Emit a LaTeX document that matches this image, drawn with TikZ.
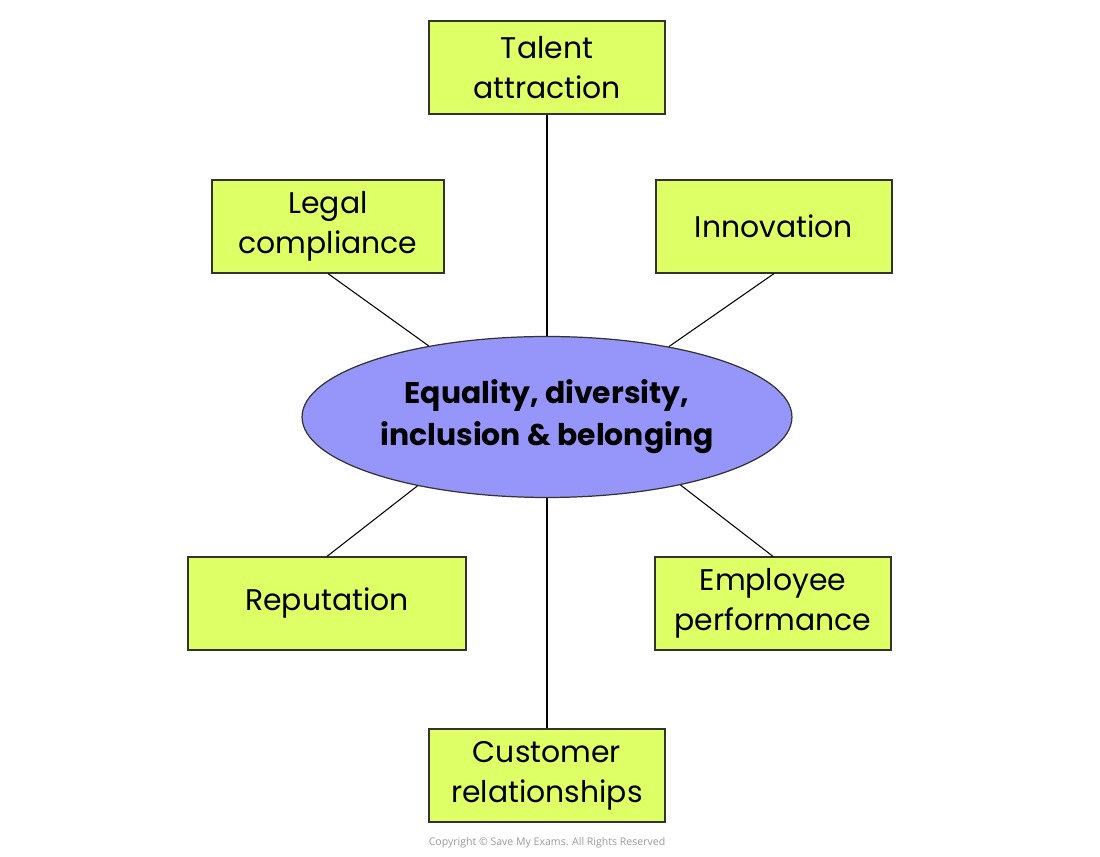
\documentclass[tikz,border=0pt]{standalone}
\usepackage{fontspec}
\setmainfont{Poppins}
\newfontfamily\copyfont{Open Sans}
\usepackage{tikz}
\usetikzlibrary{shapes.geometric}
\definecolor{boxfill}{HTML}{DFFF66}
\definecolor{hubfill}{HTML}{9696FA}
\definecolor{edgegray}{HTML}{333333}

\begin{document}
\begin{tikzpicture}[
    x=0.02cm, y=-0.02cm,
    factor/.style={draw=edgegray, line width=0.7pt, fill=boxfill, minimum width=4.72cm, minimum height=1.86cm, align=center, inner sep=2pt, font=\fontsize{17}{22.7}\selectfont},
    hub/.style={ellipse, draw=edgegray, line width=0.7pt, fill=hubfill, minimum width=9.8cm, minimum height=3.22cm, inner sep=0pt, align=center, font=\fontsize{17}{23.8}\selectfont\bfseries},
    link/.style={black, line width=0.6pt}
]
\useasboundingbox (0,0) rectangle (1100,857);
\node[hub] (edi) at (547,417) {Equality, diversity,\\inclusion \& belonging};
\node[factor] (talent) at (547,67.5) {Talent\\attraction};
\node[factor, minimum width=4.64cm] (legal) at (328,226.5) {Legal\\compliance};
\node[factor] (innov) at (774,226.5) {Innovation};
\node[factor, minimum width=5.56cm] (rep) at (327,603.5) {Reputation};
\node[factor] (perf) at (773,603.5) {Employee\\performance};
\node[factor] (cust) at (547,775.5) {Customer\\relationships};
\draw[link] (talent.south) -- (edi.north);
\draw[link] (legal.south) -- (edi.149);
\draw[link] (innov.south) -- (edi.30);
\draw[link] (rep.north) -- (edi.208);
\draw[link] (perf.north) -- (edi.333);
\draw[link] (cust.north) -- (edi.south);
% footer
\node[text=black!40, font=\copyfont\fontsize{6}{7}\selectfont] (copy) at (547,843) {Copyright \textcopyright{} Save My Exams. All Rights Reserved};
\end{tikzpicture}
\end{document}
